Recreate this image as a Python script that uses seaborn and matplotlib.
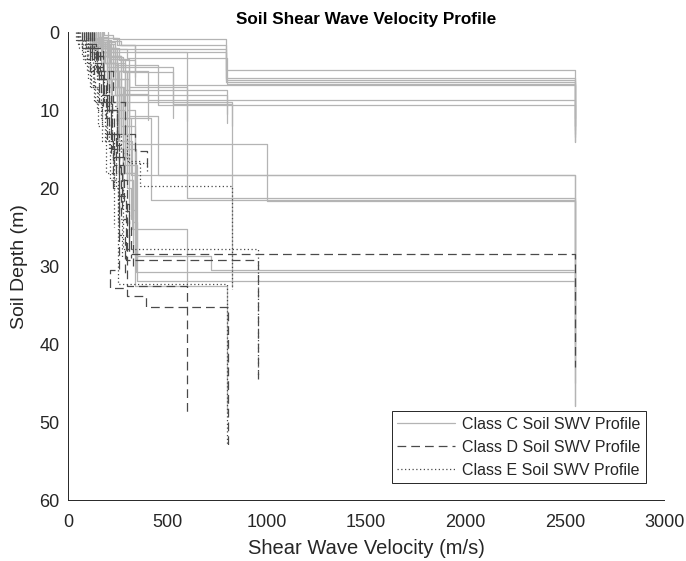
import matplotlib
matplotlib.use("Agg")
import matplotlib.pyplot as plt
from matplotlib.lines import Line2D
import seaborn as sns
import pandas as pd

# Shear wave velocity (m/s) of each layer and the depth (m) of each layer's base.
# The last layer of a profile is the half-space, drawn down to the given depth.
CLASS_C_VS = [
    [180, 226, 795, 2550],
    [150, 200, 265, 795, 2550],
    [130, 195, 795, 2550],
    [160, 245, 337, 795, 2550],
    [120, 215, 295, 798, 2550],
    [110, 175, 255, 337, 2550],
    [140, 205, 265, 403, 2550],
    [100, 165, 235, 453, 2550],
    [120, 185, 265, 529, 826],
    [90, 155, 225, 601, 2550],
    [110, 175, 245, 295, 1000, 2550],
    [130, 195, 255, 315, 2550],
    [120, 175, 235, 275, 420, 2550],
    [140, 205, 285, 798],
    [130, 205, 265, 337, 719, 2550],
    [150, 225, 285, 340, 2550],
    [140, 215, 275, 345, 2550],
    [120, 205, 275, 335, 800],
    [110, 195, 255, 320, 601],
    [160, 235, 305, 453, 2550],
    [170, 255, 337],
    [150, 235, 305, 600],
    [120, 195, 275, 529],
    [160, 245, 305, 798],
    [130, 215, 285, 826],
    [140, 205, 255, 403],
    [170, 245, 305, 285, 335],
    [150, 205, 265, 295, 325, 345],
    [100, 165, 215, 255, 295, 315],
    [175, 235, 295, 335, 325],
    [200, 265, 305],
    [90, 145, 205, 245, 275],
    [110, 185, 235, 265, 305, 325],
    [130, 195, 245, 285, 305],
    [80, 130, 180, 220, 250],
    [160, 210, 250, 280],
]
CLASS_C_DEPTH = [
    [0.4, 0.9, 4.8, 14.1],
    [0.6, 1.1, 1.6, 5.9, 13.5],
    [1.0, 2.2, 6.2, 12.0],
    [0.8, 1.6, 2.6, 6.4, 12.5],
    [1.0, 2.2, 3.3, 6.6, 11.0],
    [0.9, 2.0, 3.6, 6.8, 13.0],
    [1.2, 3.0, 5.0, 8.7, 12.0],
    [1.0, 2.5, 4.2, 9.4, 14.1],
    [1.3, 3.0, 4.5, 9.2, 32.7],
    [0.7, 1.5, 2.5, 21.3, 48.0],
    [2.0, 5.0, 9.0, 14.4, 21.6, 30.0],
    [2.5, 6.0, 11.0, 18.3, 40.0],
    [1.5, 4.0, 8.0, 11.0, 21.5, 35.0],
    [1.0, 3.5, 7.4, 11.7],
    [1.5, 5.0, 12.0, 28.7, 30.5, 45.0],
    [2.0, 6.0, 15.0, 30.7, 42.0],
    [3.0, 8.0, 17.0, 31.9, 48.0],
    [2.5, 7.0, 18.0, 32.6, 48.7],
    [1.8, 6.0, 14.0, 25.3, 32.5],
    [1.5, 5.0, 10.8, 18.3, 28.0],
    [0.8, 1.6, 5.7],
    [1.2, 3.5, 7.0, 11.4],
    [1.5, 3.2, 5.1, 11.0],
    [2.0, 4.5, 8.0, 10.5],
    [1.8, 4.0, 9.0, 12.0],
    [2.0, 5.0, 7.9, 11.3],
    [2.5, 6.0, 12.0, 18.0, 24.0],
    [3.0, 7.0, 13.0, 19.0, 24.4, 29.0],
    [1.0, 4.0, 9.0, 14.0, 20.0, 24.0],
    [2.0, 5.0, 10.0, 22.8, 27.0],
    [3.0, 8.0, 15.0],
    [2.0, 5.0, 9.0, 15.0, 21.0],
    [1.5, 4.0, 8.0, 13.0, 19.0, 26.0],
    [1.0, 4.5, 10.0, 16.0, 22.0],
    [1.0, 3.0, 6.0, 10.0, 14.0],
    [1.5, 4.0, 7.0, 9.5],
]

CLASS_D_VS = [
    [120, 160, 205, 245, 280, 305, 2550],
    [100, 140, 180, 220, 255, 290, 956],
    [110, 150, 190, 230, 265, 295, 601],
    [90, 130, 175, 215, 255, 210, 295, 390, 805],
    [130, 175, 225, 285, 335, 395],
    [100, 145, 195, 245, 275, 260],
    [80, 120, 165, 205, 240, 270, 305, 325],
    [70, 110, 155, 195, 225, 255, 285],
    [120, 175, 215, 255, 295, 315],
]
CLASS_D_DEPTH = [
    [2.0, 5.0, 10.0, 16.0, 22.0, 28.5, 43.0],
    [1.5, 4.5, 9.0, 15.0, 21.0, 29.2, 44.5],
    [2.5, 6.0, 11.0, 17.0, 24.0, 32.5, 49.2],
    [2.0, 5.5, 10.0, 16.0, 30.5, 32.8, 33.8, 35.3, 53.3],
    [2.0, 5.0, 9.0, 13.0, 15.2, 17.5],
    [2.0, 6.0, 10.0, 14.5, 17.0, 18.0],
    [1.5, 4.0, 8.0, 13.0, 18.0, 23.0, 27.0, 30.0],
    [2.0, 5.0, 9.0, 14.0, 20.0, 26.0, 31.0],
    [3.0, 8.0, 13.0, 19.0, 25.0, 29.0],
]

CLASS_E_VS = [
    [60, 100, 145, 195, 245, 295, 360, 826],
    [50, 85, 125, 165, 205, 240, 275, 956],
    [70, 110, 155, 195, 230, 250, 800],
    [50, 85, 115, 145, 185, 225],
    [45, 70, 100, 135, 170],
    [90, 135, 180, 220, 265, 305, 395],
    [40, 75, 110, 150, 190, 230],
    [55, 95, 130, 170, 210, 250, 270],
]
CLASS_E_DEPTH = [
    [1.0, 3.0, 6.0, 9.5, 13.0, 16.5, 19.7, 33.0],
    [1.0, 3.5, 7.0, 11.0, 15.0, 20.0, 27.8, 44.0],
    [1.5, 4.5, 8.0, 13.0, 20.0, 32.3, 53.0],
    [1.5, 4.0, 7.0, 10.0, 14.0, 19.0],
    [1.0, 3.0, 6.0, 9.0, 12.0],
    [2.0, 5.0, 9.0, 13.0, 15.5, 16.8, 18.0],
    [1.0, 3.5, 7.0, 12.0, 18.0, 25.0],
    [2.0, 5.0, 9.0, 14.0, 19.0, 24.0, 29.0],
]

CLASS_LABELS = {
    "C": "Class C Soil SWV Profile",
    "D": "Class D Soil SWV Profile",
    "E": "Class E Soil SWV Profile",
}


def step_rows(cls, vs_list, depth_list):
    """Turn layered profiles into step-shaped (velocity, depth) paths."""
    rows = []
    for k, (vs, deps) in enumerate(zip(vs_list, depth_list)):
        pid = f"{cls}{k}"
        top = 0.0
        for v, bot in zip(vs, deps):
            rows.append((cls, pid, v, top))
            rows.append((cls, pid, v, bot))
            top = bot
    return rows


rows = (step_rows("C", CLASS_C_VS, CLASS_C_DEPTH)
        + step_rows("D", CLASS_D_VS, CLASS_D_DEPTH)
        + step_rows("E", CLASS_E_VS, CLASS_E_DEPTH))
df = pd.DataFrame(rows, columns=["cls", "pid", "vs", "depth"])

sns.set_style("white")
plt.rcParams["font.family"] = ["Liberation Sans", "DejaVu Sans"]

fig = plt.figure(figsize=(6.86, 5.61), dpi=100)
ax = fig.add_axes([0.0991, 0.1087, 0.8693, 0.834])

palette = {"C": "#b4b4b4", "D": "#4a4a4a", "E": "#4a4a4a"}
dashes = {"C": None, "D": (7, 4), "E": (1, 2)}

# Class C first so the softer-soil classes sit on top
for cls in ["C", "D", "E"]:
    n_before = len(ax.get_lines())
    sns.lineplot(data=df[df["cls"] == cls], x="vs", y="depth", units="pid",
                 estimator=None, sort=False, color=palette[cls],
                 linewidth=0.9, ax=ax, legend=False)
    if dashes[cls] is not None:
        for ln in ax.get_lines()[n_before:]:
            ln.set_dashes(dashes[cls])

ax.set_xlim(0, 3000)
ax.set_ylim(60, 0)
ax.set_xticks([0, 500, 1000, 1500, 2000, 2500, 3000])
ax.set_yticks([0, 10, 20, 30, 40, 50, 60])

axis_grey = "#262626"
for side in ["top", "right"]:
    ax.spines[side].set_visible(False)
for side in ["left", "bottom"]:
    ax.spines[side].set_color(axis_grey)
    ax.spines[side].set_linewidth(0.7)
ax.tick_params(direction="in", length=4, width=0.7, colors=axis_grey,
               labelsize=13)
ax.tick_params(axis="x", pad=10)
ax.tick_params(axis="y", pad=6)

ax.set_xlabel("Shear Wave Velocity (m/s)", fontsize=14.5, color=axis_grey, labelpad=6)
ax.set_ylabel("Soil Depth (m)", fontsize=14, color=axis_grey, labelpad=8)
ax.set_title("Soil Shear Wave Velocity Profile", fontsize=12.3,
             fontweight="bold", color="black", pad=6)

handles = [
    Line2D([], [], color=palette["C"], lw=0.9),
    Line2D([], [], color=palette["D"], lw=0.9, dashes=dashes["D"]),
    Line2D([], [], color=palette["E"], lw=0.9, dashes=dashes["E"]),
]
leg = ax.legend(handles, [CLASS_LABELS[c] for c in ["C", "D", "E"]],
                loc="lower right", bbox_to_anchor=(0.9695, 0.036),
                borderaxespad=0, fontsize=11.5, handlelength=3.6,
                handletextpad=0.45, labelspacing=0.5, fancybox=False,
                framealpha=1, edgecolor=axis_grey, borderpad=0.35)
leg.get_frame().set_linewidth(0.7)

fig.savefig("out.png", dpi=100, facecolor="white")
